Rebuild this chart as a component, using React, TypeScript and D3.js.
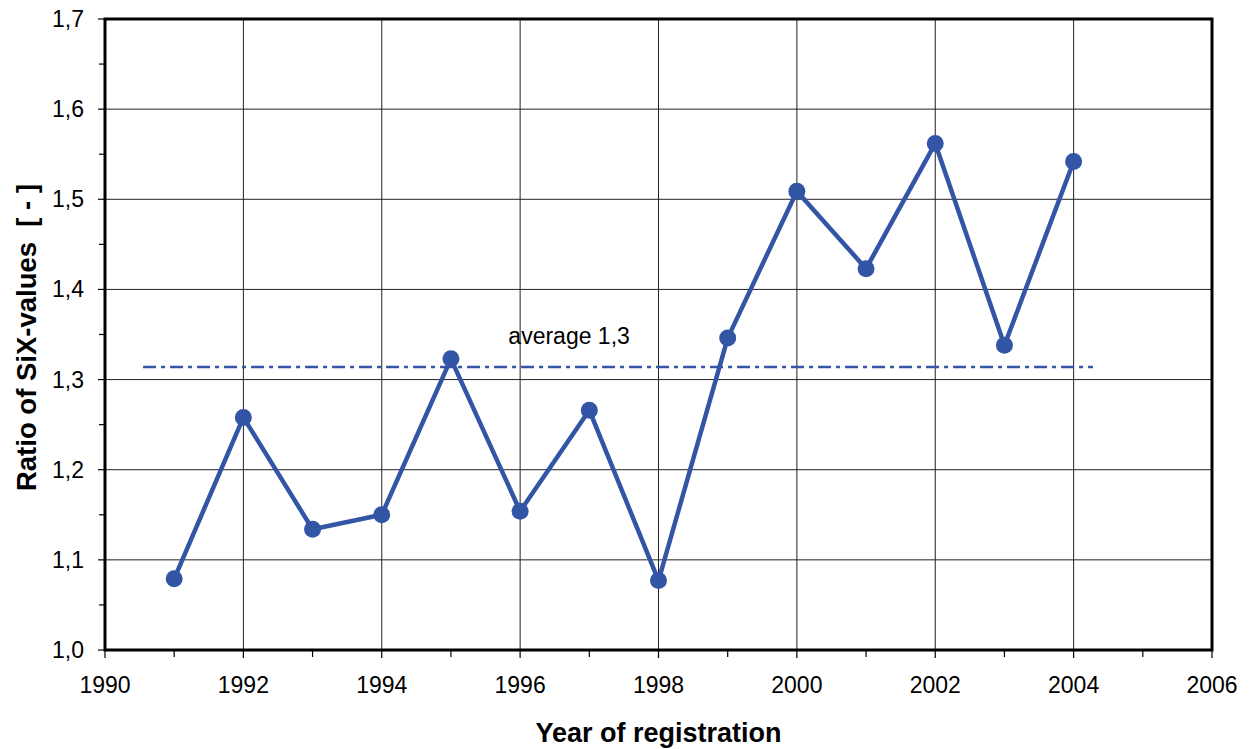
import * as d3 from 'd3';

const years = [1991, 1992, 1993, 1994, 1995, 1996, 1997, 1998, 1999, 2000, 2001, 2002, 2003, 2004];
const ratios = [1.079, 1.258, 1.134, 1.150, 1.323, 1.154, 1.266, 1.077, 1.346, 1.509, 1.423, 1.562, 1.338, 1.542];
const averageValue = 1.314;
const averageSpan = [1990.55, 2004.28];
const xTicks = [1990, 1992, 1994, 1996, 1998, 2000, 2002, 2004, 2006];
const yTicks = [1.0, 1.1, 1.2, 1.3, 1.4, 1.5, 1.6, 1.7];

const color = '#3355a5';
const font = 'Liberation Sans, Arial, sans-serif';

export default function App() {
  const width = 1255;
  const height = 749;
  const margin = { top: 19, right: 43, bottom: 99, left: 105 };
  const innerW = width - margin.left - margin.right;
  const innerH = height - margin.top - margin.bottom;

  const x = d3.scaleLinear().domain([1990, 2006]).range([0, innerW]);
  const y = d3.scaleLinear().domain([1.0, 1.7]).range([innerH, 0]);

  const pts = years.map((yr, i) => ({ yr, v: ratios[i] }));
  const line = d3
    .line<{ yr: number; v: number }>()
    .x((d) => x(d.yr))
    .y((d) => y(d.v));

  const minorX = d3.range(1991, 2006, 2);
  const minorY = d3.range(1.05, 1.7, 0.1);
  const fmt = (v: number) => v.toFixed(1).replace('.', ',');

  return (
    <svg width={width} height={height} style={{ position: 'absolute', left: 0, top: 0, background: '#fff' }}>
      <g transform={`translate(${margin.left},${margin.top})`} fontFamily={font}>
        {/* grid */}
        {xTicks.slice(1, -1).map((t) => (
          <line key={`gx${t}`} x1={x(t)} x2={x(t)} y1={0} y2={innerH} stroke='#222' strokeWidth={1} />
        ))}
        {yTicks.slice(1, -1).map((t) => (
          <line key={`gy${t}`} x1={0} x2={innerW} y1={y(t)} y2={y(t)} stroke='#222' strokeWidth={1} />
        ))}

        {/* ticks */}
        {xTicks.map((t) => (
          <line key={`tx${t}`} x1={x(t)} x2={x(t)} y1={innerH} y2={innerH + 8} stroke='#000' strokeWidth={1.2} />
        ))}
        {minorX.map((t) => (
          <line key={`mx${t}`} x1={x(t)} x2={x(t)} y1={innerH} y2={innerH + 7} stroke='#000' strokeWidth={1.2} />
        ))}
        {yTicks.map((t) => (
          <line key={`ty${t}`} x1={-7} x2={0} y1={y(t)} y2={y(t)} stroke='#000' strokeWidth={1.2} />
        ))}
        {minorY.map((t) => (
          <line key={`my${t}`} x1={-6} x2={0} y1={y(t)} y2={y(t)} stroke='#000' strokeWidth={1.2} />
        ))}

        {/* tick labels */}
        {xTicks.map((t) => (
          <text key={`lx${t}`} x={x(t)} y={innerH + 43} textAnchor='middle' fontSize={23}>
            {t}
          </text>
        ))}
        {yTicks.map((t) => (
          <text key={`ly${t}`} x={-21} y={y(t)} dy='0.35em' textAnchor='end' fontSize={23}>
            {fmt(t)}
          </text>
        ))}

        {/* frame */}
        <rect x={0} y={0} width={innerW} height={innerH} fill='none' stroke='#000' strokeWidth={3} />

        {/* average */}
        <line
          x1={x(averageSpan[0])}
          x2={x(averageSpan[1])}
          y1={y(averageValue)}
          y2={y(averageValue)}
          stroke={color}
          strokeWidth={2.6}
          strokeDasharray='13 5 4 5'
        />
        <text x={x(1995.83)} y={y(averageValue) - 23} fontSize={23}>
          average 1,3
        </text>

        {/* series */}
        <path d={line(pts) ?? ''} fill='none' stroke={color} strokeWidth={4.5} strokeLinejoin='round' />
        {pts.map((p) => (
          <circle key={p.yr} cx={x(p.yr)} cy={y(p.v)} r={8.5} fill={color} />
        ))}

        {/* axis titles */}
        <text x={innerW / 2} y={innerH + 92} textAnchor='middle' fontSize={27} fontWeight='bold'>
          Year of registration
        </text>
        <text
          transform={`translate(${-69},${innerH / 2 + 3}) rotate(-90)`}
          textAnchor='middle'
          fontSize={27.5}
          fontWeight='bold'
          style={{ whiteSpace: 'pre' }}
        >
          {'Ratio of SiX-values  [ - ]'}
        </text>
      </g>
    </svg>
  );
}
